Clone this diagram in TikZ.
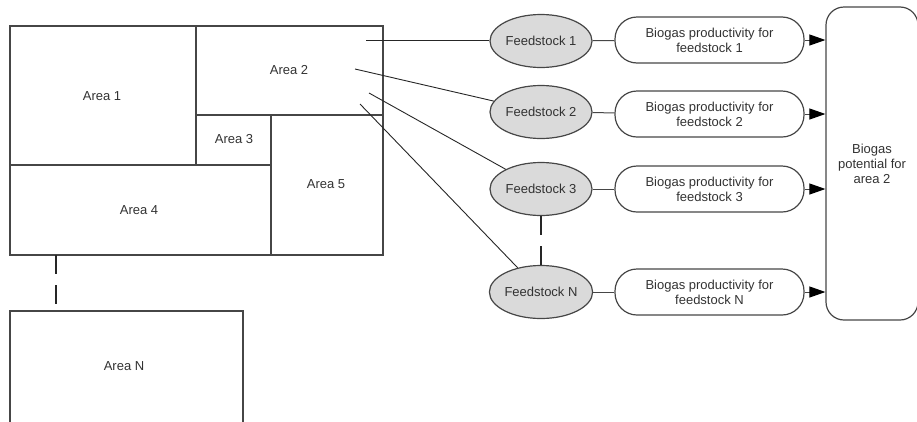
\documentclass[tikz,border=0pt]{standalone}
\usepackage{fontspec}
\setmainfont{Liberation Sans}
\usetikzlibrary{arrows.meta,shapes.geometric}
\definecolor{linegray}{RGB}{70,70,70}
\definecolor{txtgray}{RGB}{50,50,50}
\definecolor{feedfill}{RGB}{218,218,218}
\begin{document}
\begin{tikzpicture}[x=1pt,y=-1pt,
  font=\fontsize{13}{15}\selectfont,
  arealine/.style={draw=linegray, line width=1.3pt},
  lbl/.style={text=txtgray, inner sep=0pt},
  feed/.style={ellipse, draw=linegray, line width=1.2pt, fill=feedfill, text=txtgray,
    minimum width=102pt, minimum height=53pt, inner sep=0pt},
  prod/.style={rectangle, rounded corners=22pt, draw=linegray, line width=1.2pt, text=txtgray,
    minimum width=189pt, minimum height=46pt, align=center, inner sep=0pt},
  big/.style={rectangle, rounded corners=18pt, draw=linegray, line width=1.2pt, text=txtgray,
    minimum width=92pt, minimum height=313pt, align=center, inner sep=0pt},
  conn/.style={draw=black!85, line width=0.9pt},
  link/.style={draw=linegray, line width=1pt},
  arr/.style={draw=linegray, line width=1pt, -{Triangle[length=16pt,width=11pt,fill=black,color=black]}},
  dashconn/.style={draw=black!85, line width=1.2pt, dash pattern=on 19pt off 11pt}
]
\useasboundingbox (0,0) rectangle (917,421);

% area plan
\draw[arealine] (10,26) rectangle (383,255);
\draw[arealine] (196,26) -- (196,165);
\draw[arealine] (10,165) -- (271,165);
\draw[arealine] (196,115) -- (383,115);
\draw[arealine] (271,115) -- (271,255);
\draw[arealine] (10,425) -- (10,311) -- (243,311) -- (243,425);

\node[lbl] (a1) at (102,96) {Area 1};
\node[lbl] (a2) at (289,70) {Area 2};
\node[lbl] (a3) at (234,139) {Area 3};
\node[lbl] (a4) at (139,210) {Area 4};
\node[lbl] (a5) at (326,184) {Area 5};
\node[lbl] (aN) at (124,366) {Area N};

\coordinate (a4b) at (56,255);
\coordinate (aNt) at (56,311);
\draw[dashconn] (a4b) -- (aNt);

% feedstocks
\node[feed] (f1) at (541,41) {Feedstock 1};
\node[feed] (f2) at (541,112) {Feedstock 2};
\node[feed] (f3) at (541,189) {Feedstock 3};
\node[feed] (fN) at (541,292) {Feedstock N};

\node[prod] (p1) at (709.5,40) {Biogas productivity for\\feedstock 1};
\node[prod] (p2) at (709.5,114) {Biogas productivity for\\feedstock 2};
\node[prod] (p3) at (709.5,189) {Biogas productivity for\\feedstock 3};
\node[prod] (pN) at (709.5,292) {Biogas productivity for\\feedstock N};

\node[big] (bg) at (872,163.5) {Biogas\\potential for\\area 2};

% connectors from area 2
\coordinate (s1) at (366,40);
\coordinate (s2) at (355,69);
\coordinate (s3) at (369,93);
\coordinate (s4) at (360,104);
\draw[conn] (s1) -- (s1 -| f1.west);
\draw[conn] (s2) -- (f2);
\draw[conn] (s3) -- (f3);
\draw[conn] (s4) -- (fN);

\draw[dashconn] (f3.south) -- (fN.north);

% feedstock to productivity
\draw[link] (f1) -- (p1);
\draw[link] (f2) -- (p2);
\draw[link] (f3) -- (p3);
\draw[link] (fN) -- (pN);

% productivity to potential
\draw[arr] (p1.east) -- (p1.east -| bg.west);
\draw[arr] (p2.east) -- (p2.east -| bg.west);
\draw[arr] (p3.east) -- (p3.east -| bg.west);
\draw[arr] (pN.east) -- (pN.east -| bg.west);
\end{tikzpicture}
\end{document}
